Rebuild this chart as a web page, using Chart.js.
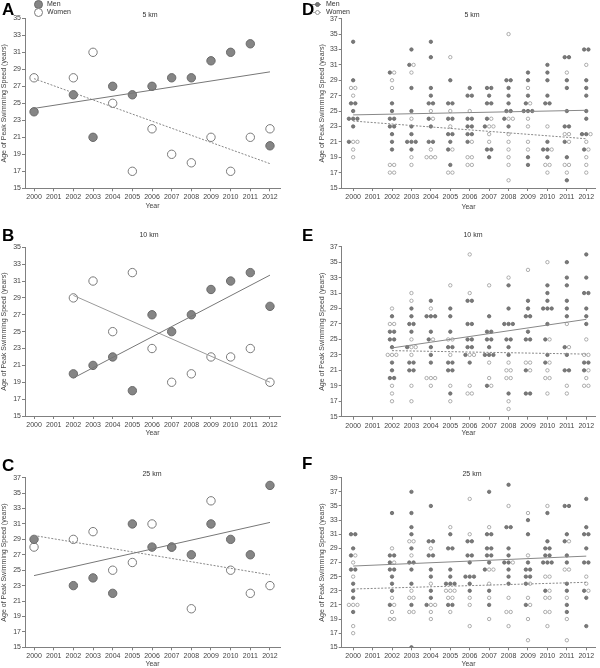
<!DOCTYPE html>
<html>
<head>
<meta charset="utf-8">
<script src="https://cdn.jsdelivr.net/npm/chart.js@4.4.0/dist/chart.umd.min.js"></script>
<style>
  body { margin: 0; background: #fff; width: 600px; height: 668px; position: relative; overflow: hidden;
         font-family: "Liberation Sans", Arial, sans-serif; color: #333; }
  canvas { position: absolute; }
  .letter { position: absolute; font-weight: bold; font-size: 17px; line-height: 17px; color: #000; }
  .ttl { position: absolute; font-size: 7px; transform: translate(-50%, -50%); white-space: nowrap; }
  .leg { position: absolute; font-size: 7px; line-height: 8px; white-space: nowrap; }
  .dot { position: absolute; border-radius: 50%; box-sizing: border-box; }
  .dash { position: absolute; height: 1px; width: 9px; background: #888; }
</style>
</head>
<body>
<script>
// --- DADOS ---
const years = [2000, 2001, 2002, 2003, 2004, 2005, 2006, 2007, 2008, 2009, 2010, 2011, 2012];

// A - 5 km (melhor por ano)
const menA   = [24, null, 26, 21, 27, 26, 27, 28, 28, 30, 31, 32, 20];
const womenA = [28, null, 28, 31, 25, 17, 22, 19, 18, 21, 17, 21, 22];
const trendYearsA = [2000, 2012];
const trendMenA   = [24.4, 28.7];
const trendWomenA = [27.9, 17.9];

// B - 10 km
const menB   = [null, null, 20, 21, 22, 18, 27, 25, 27, 30, 31, 32, 28];
const womenB = [null, null, 29, 31, 25, 32, 23, 19, 20, 22, 22, 23, 19];
const trendYearsB = [2002, 2012];
const trendMenB   = [19.5, 31.7];
const trendWomenB = [29.3, 19.0];

// C - 25 km
const menC   = [29, null, 23, 24, 22, 31, 28, 28, 27, 31, 29, 27, 36];
const womenC = [28, null, 29, 30, 25, 26, 31, 28, 20, 34, 25, 22, 23];
const trendYearsC = [2000, 2012];
const trendMenC   = [24.3, 31.2];
const trendWomenC = [29.5, 24.4];

// D - 5 km (top 10 por ano)
const menD = [
  [34, 29, 26, 26, 25, 24, 24, 24, 23, 21],
  [],
  [30, 26, 25, 24, 24, 23, 23, 22, 21, 20],
  [33, 31, 28, 25, 23, 22, 21, 21, 21, 20],
  [34, 32, 28, 27, 26, 26, 24, 23, 21, 21],
  [29, 26, 26, 24, 24, 22, 22, 21, 20, 18],
  [28, 27, 27, 24, 24, 23, 23, 22, 22, 21],
  [28, 28, 27, 26, 26, 24, 23, 20, 20, 19],
  [29, 29, 28, 27, 26, 25, 25, 24, 23],
  [30, 29, 27, 26, 25, 25, 25, 19, 18],
  [31, 30, 29, 27, 26, 26, 21, 20, 20, 19],
  [32, 32, 29, 28, 25, 23, 23, 21, 19, 16],
  [33, 33, 29, 28, 27, 25, 24, 22, 22, 20]
];
const womenD = [
  [28, 28, 27, 21, 21, 20, 19],
  [],
  [30, 29, 28, 18, 18, 17, 17],
  [31, 30, 24, 19, 18],
  [25, 24, 20, 19, 19, 19],
  [32, 25, 23, 20, 17, 17],
  [25, 21, 19, 19, 18, 18],
  [24, 23, 23, 22, 21],
  [35, 24, 24, 22, 21, 20, 19, 18, 16],
  [28, 26, 24, 23, 21, 20],
  [23, 20, 18, 18, 17],
  [30, 22, 22, 21, 18, 18, 17],
  [31, 22, 21, 20, 19, 18, 17]
];
const trendYearsD = [2000, 2012];
const trendMenD   = [24.5, 25.1];
const trendWomenD = [23.7, 21.4];

// E - 10 km
const menE = [
  [],
  [],
  [28, 26, 26, 25, 25, 24, 22, 21, 20, 20],
  [29, 28, 27, 27, 26, 24, 22, 22, 21, 21],
  [30, 28, 28, 28, 26, 25, 24, 23, 22],
  [29, 28, 26, 24, 24, 22, 22, 21, 21, 18],
  [30, 30, 27, 27, 25, 25, 24, 24, 23, 22],
  [28, 26, 26, 25, 25, 24, 23, 23, 23, 19],
  [32, 29, 27, 27, 27, 25, 25, 24, 23, 18],
  [30, 29, 28, 28, 26, 25, 25, 21, 18, 18],
  [32, 31, 30, 29, 29, 29, 27, 25, 23, 22],
  [35, 33, 32, 30, 29, 28, 24, 23, 21, 21],
  [36, 33, 31, 31, 29, 28, 27, 22, 22, 21]
];
const womenE = [
  [],
  [],
  [29, 27, 27, 23, 23, 23, 19, 18, 17],
  [31, 30, 25, 24, 24, 23, 19, 17],
  [29, 25, 20, 20, 20, 19],
  [32, 25, 25, 23, 19, 17],
  [36, 31, 23, 23, 19, 18, 18],
  [32, 22, 20, 19],
  [33, 22, 21, 21, 20, 20, 17, 16],
  [34, 22, 22, 21],
  [35, 25, 22, 21, 20, 20, 18],
  [27, 24, 19, 18],
  [25, 23, 23, 21, 20, 19, 19]
];
const trendYearsE = [2002, 2012];
const trendMenE   = [23.9, 27.6];
const trendWomenE = [23.55, 23.1];

// F - 25 km
const menF = [
  [31, 31, 29, 28, 26, 26, 24, 23, 22, 20],
  [],
  [34, 28, 28, 27, 26, 26, 25, 24, 23, 21],
  [37, 34, 32, 31, 29, 27, 27, 26, 24, 21, 15],
  [35, 30, 30, 28, 28, 26, 25, 23, 22, 21],
  [31, 29, 29, 26, 25, 24, 24, 24, 21, 21],
  [30, 30, 28, 28, 27, 25, 25, 25, 24, 23],
  [37, 31, 31, 29, 29, 28, 28, 27, 26, 23, 21],
  [38, 32, 32, 29, 28, 27, 27, 26, 25, 24],
  [33, 31, 27, 26, 26, 25, 25, 24, 21],
  [34, 30, 29, 29, 28, 28, 27, 27, 27, 23],
  [35, 35, 31, 30, 28, 27, 24, 23, 21, 20],
  [36, 32, 31, 31, 29, 27, 27, 23, 22, 18]
];
const womenF = [
  [28, 27, 25, 21, 21, 21, 18, 17],
  [],
  [29, 27, 22, 21, 20, 19, 19],
  [30, 30, 28, 23, 22, 22, 20, 20],
  [29, 24, 21, 21, 20, 19],
  [32, 23, 23, 23, 22, 22, 20],
  [36, 31, 22, 21, 18],
  [32, 26, 26, 24, 22, 19],
  [35, 27, 22, 20, 20, 18],
  [34, 28, 24, 22, 21, 19, 16],
  [35, 25, 25, 23, 22, 22, 20, 20, 18],
  [30, 26, 26, 22, 19, 16],
  [25, 24, 23]
];
const trendYearsF = [2000, 2012];
const trendMenF   = [26.5, 27.9];
const trendWomenF = [23.25, 24.2];

// --- ESTILOS ---
const axisCol = '#808080';
const txtCol = '#444';
const tickFont = { family: '"Liberation Sans", Arial, sans-serif', size: 7 };
const yTitle = 'Age of Peak Swimming Speed (years)';

// pontos de um valor por ano
function yearPoints(values) {
  return years.map((yr, i) => ({ x: yr, y: values[i] })).filter(p => p.y !== null);
}

// espalha horizontalmente os pontos repetidos no mesmo ano/valor
function spread(menCols, womenCols, gap) {
  const men = [], women = [];
  years.forEach((yr, i) => {
    const rows = new Map();
    menCols[i].forEach(v => { if (!rows.has(v)) rows.set(v, []); rows.get(v).push('m'); });
    womenCols[i].forEach(v => { if (!rows.has(v)) rows.set(v, []); rows.get(v).push('w'); });
    rows.forEach((list, v) => {
      list.forEach((s, k) => {
        const pt = { x: yr + (k - (list.length - 1) / 2) * gap, y: v };
        (s === 'm' ? men : women).push(pt);
      });
    });
  });
  return { men, women };
}

function trend(xs, ys) {
  return [{ x: xs[0], y: ys[0] }, { x: xs[1], y: ys[1] }];
}

function lineSet(data, color, dash) {
  return { data, showLine: true, pointRadius: 0, borderColor: color, borderWidth: 1,
           borderDash: dash, fill: false, order: 0 };
}

function scatterSet(data, fill, stroke, r, bw, order) {
  return { data, pointRadius: r, pointBackgroundColor: fill, pointBorderColor: stroke,
           pointBorderWidth: bw, showLine: false, order };
}

function makeChart(p, datasets) {
  const cv = document.createElement('canvas');
  cv.width = p.w; cv.height = p.h;
  cv.style.left = p.left + 'px';
  cv.style.top = p.top + 'px';
  document.body.appendChild(cv);
  new Chart(cv, {
    type: 'scatter',
    data: { datasets },
    options: {
      responsive: false,
      animation: false,
      devicePixelRatio: 1,
      layout: { padding: { left: 0, top: p.T, right: p.w - p.R, bottom: 0 } },
      plugins: { legend: { display: false }, tooltip: { enabled: false } },
      scales: {
        x: {
          type: 'linear', min: p.xMin, max: p.xMax,
          afterBuildTicks: s => { s.ticks = years.map(v => ({ value: v })); },
          afterFit: s => { s.height = p.h - p.B; },
          grid: { drawOnChartArea: false, tickLength: 3, color: axisCol },
          border: { color: axisCol },
          ticks: { font: tickFont, color: txtCol, padding: 2, maxRotation: 0, autoSkip: false,
                   callback: v => String(v) },
          title: { display: true, text: 'Year', font: tickFont, color: txtCol,
                   padding: { top: 0, bottom: p.yearPad } }
        },
        y: {
          min: 15, max: p.yMax,
          afterFit: s => { s.width = p.L; },
          grid: { drawOnChartArea: false, tickLength: 3, color: axisCol },
          border: { color: axisCol },
          ticks: { stepSize: 2, font: tickFont, color: txtCol, padding: 1 },
          title: { display: true, text: yTitle, font: tickFont, color: txtCol,
                   padding: { top: p.titlePad, bottom: 0 } }
        }
      }
    }
  });
}

// --- PAINÉIS DA ESQUERDA ---
const leftX = { left: 0, w: 300, L: 25, R: 280, xMin: 1999.54, xMax: 2012.51, titlePad: 0 };
const menFill = '#858585', menEdge = '#6a6a6a', womenEdge = '#7a7a7a';

makeChart({ ...leftX, top: 0, h: 220, T: 18.3, B: 188.3, yMax: 35, yearPad: 9.8 }, [
  lineSet(trend(trendYearsA, trendMenA), '#777', []),
  lineSet(trend(trendYearsA, trendWomenA), '#888', [2, 1.5]),
  scatterSet(yearPoints(menA), menFill, menEdge, 4.2, 1, 1),
  scatterSet(yearPoints(womenA), '#fff', womenEdge, 4.2, 1, 2)
]);
makeChart({ ...leftX, top: 220, h: 220, T: 27.3, B: 196, yMax: 35, yearPad: 2.8 }, [
  lineSet(trend(trendYearsB, trendMenB), '#777', []),
  lineSet(trend(trendYearsB, trendWomenB), '#9a9a9a', []),
  scatterSet(yearPoints(menB), menFill, menEdge, 4.2, 1, 1),
  scatterSet(yearPoints(womenB), '#fff', womenEdge, 4.2, 1, 2)
]);
makeChart({ ...leftX, top: 440, h: 228, T: 37.7, B: 207.3, yMax: 37, yearPad: 0 }, [
  lineSet(trend(trendYearsC, trendMenC), '#777', []),
  lineSet(trend(trendYearsC, trendWomenC), '#888', [2, 1.5]),
  scatterSet(yearPoints(menC), menFill, menEdge, 4.2, 1, 1),
  scatterSet(yearPoints(womenC), '#fff', womenEdge, 4.2, 1, 2)
]);

// --- PAINÉIS DA DIREITA ---
const rightX = { left: 300, w: 300, L: 41.7, R: 298.3, xMin: 1999.41, xMax: 2012.46, titlePad: 17.5 };
const gap = 0.22;
const smallMen = '#7a7a7a', smallMenEdge = '#666', smallWomenEdge = '#999';

const ptsD = spread(menD, womenD, gap);
makeChart({ ...rightX, top: 0, h: 220, T: 18.7, B: 188, yMax: 37, yearPad: 9.1 }, [
  lineSet(trend(trendYearsD, trendMenD), '#888', []),
  lineSet(trend(trendYearsD, trendWomenD), '#888', [2, 1.5]),
  scatterSet(ptsD.men, smallMen, smallMenEdge, 1.7, 0.8, 1),
  scatterSet(ptsD.women, '#fff', smallWomenEdge, 1.7, 0.8, 2)
]);
const ptsE = spread(menE, womenE, gap);
makeChart({ ...rightX, top: 220, h: 220, T: 26.7, B: 196.7, yMax: 37, yearPad: 2.5 }, [
  lineSet(trend(trendYearsE, trendMenE), '#888', []),
  lineSet(trend(trendYearsE, trendWomenE), '#888', [2, 1.5]),
  scatterSet(ptsE.men, smallMen, smallMenEdge, 1.7, 0.8, 1),
  scatterSet(ptsE.women, '#fff', smallWomenEdge, 1.7, 0.8, 2)
]);
const ptsF = spread(menF, womenF, gap);
makeChart({ ...rightX, top: 440, h: 228, T: 37.7, B: 207.3, yMax: 39, yearPad: 0 }, [
  lineSet(trend(trendYearsF, trendMenF), '#888', []),
  lineSet(trend(trendYearsF, trendWomenF), '#888', [2, 1.5]),
  scatterSet(ptsF.men, smallMen, smallMenEdge, 1.7, 0.8, 1),
  scatterSet(ptsF.women, '#fff', smallWomenEdge, 1.7, 0.8, 2)
]);

// --- LETRAS, TÍTULOS E LEGENDAS ---
function addDiv(cls, text, x, y, css) {
  const d = document.createElement('div');
  d.className = cls;
  d.textContent = text;
  d.style.left = x + 'px';
  d.style.top = y + 'px';
  if (css) Object.assign(d.style, css);
  document.body.appendChild(d);
  return d;
}
[['A', 2, 1], ['B', 2, 227], ['C', 2, 457], ['D', 302, 1], ['E', 302, 227], ['F', 302, 455]]
  .forEach(([t, x, y]) => addDiv('letter', t, x, y));
[['5 km', 150, 14], ['10 km', 149, 234], ['25 km', 152, 473],
 ['5 km', 472, 14], ['10 km', 473, 234], ['25 km', 472, 473]]
  .forEach(([t, x, y]) => addDiv('ttl', t, x, y));

// legenda A
addDiv('dot', '', 34, 0, { width: '9px', height: '9px', background: menFill, border: '1px solid ' + menEdge });
addDiv('leg', 'Men', 47, 0);
addDiv('dot', '', 34, 8, { width: '9px', height: '9px', background: '#fff', border: '1px solid ' + womenEdge });
addDiv('leg', 'Women', 47, 8);
// legenda D
addDiv('dash', '', 312, 4);
addDiv('dash', '', 312, 12, { background: '#aaa' });
addDiv('dot', '', 314.5, 2, { width: '5px', height: '5px', background: smallMen, border: '0.8px solid ' + smallMenEdge });
addDiv('leg', 'Men', 326, 0);
addDiv('dot', '', 314.5, 10, { width: '5px', height: '5px', background: '#fff', border: '0.8px solid ' + smallWomenEdge });
addDiv('leg', 'Women', 326, 8);
</script>
</body>
</html>
